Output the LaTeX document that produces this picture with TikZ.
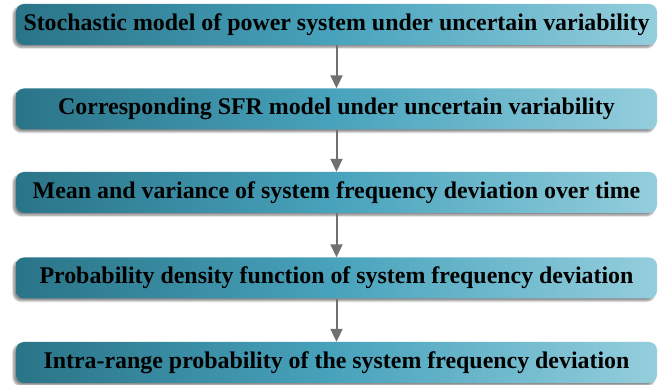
\documentclass[tikz,border=0pt]{standalone}
\usepackage{fontspec}
\setmainfont{Liberation Serif}
\newfontfamily\stagefont{Liberation Serif}[BoldFont={* Bold}]
\usetikzlibrary{arrows.meta,shadows.blur}
\definecolor{tealdark}{RGB}{42,116,136}
\definecolor{tealmid}{RGB}{72,163,188}
\definecolor{teallight}{RGB}{148,206,221}
\definecolor{arrowgrey}{RGB}{112,112,112}
\tikzset{
  x=1pt,y=1pt,
  stagebox/.style={rounded corners=8pt, minimum width=641pt, minimum height=41pt,
    left color=tealdark, right color=teallight, middle color=tealmid, draw=none,
    blur shadow={shadow xshift=-2.5pt, shadow yshift=-2.5pt, shadow blur steps=6, shadow opacity=45},
    font=\stagefont\bfseries\fontsize{23.9}{27}\selectfont, text=black, inner sep=0pt},
  flow/.style={draw=arrowgrey, line width=2pt, -{Triangle[width=12pt,length=13pt]}, arrowgrey}
}
\begin{document}
\begin{tikzpicture}
\useasboundingbox (0,0) rectangle (669,385);
\node[stagebox] (s1) at (336.5,360.5) {Stochastic model of power system under uncertain variability};
\node[stagebox] (s2) at (336.5,276) {Corresponding SFR model under uncertain variability};
\node[stagebox] (s3) at (336.5,192.5) {Mean and variance of system frequency deviation over time};
\node[stagebox] (s4) at (336.5,107) {Probability density function of system frequency deviation};
\node[stagebox] (s5) at (336.5,22.5) {Intra-range probability of the system frequency deviation};
\draw[flow] (s1.south) -- (s2.north);
\draw[flow] (s2.south) -- (s3.north);
\draw[flow] (s3.south) -- (s4.north);
\draw[flow] (s4.south) -- (s5.north);
\end{tikzpicture}
\end{document}
